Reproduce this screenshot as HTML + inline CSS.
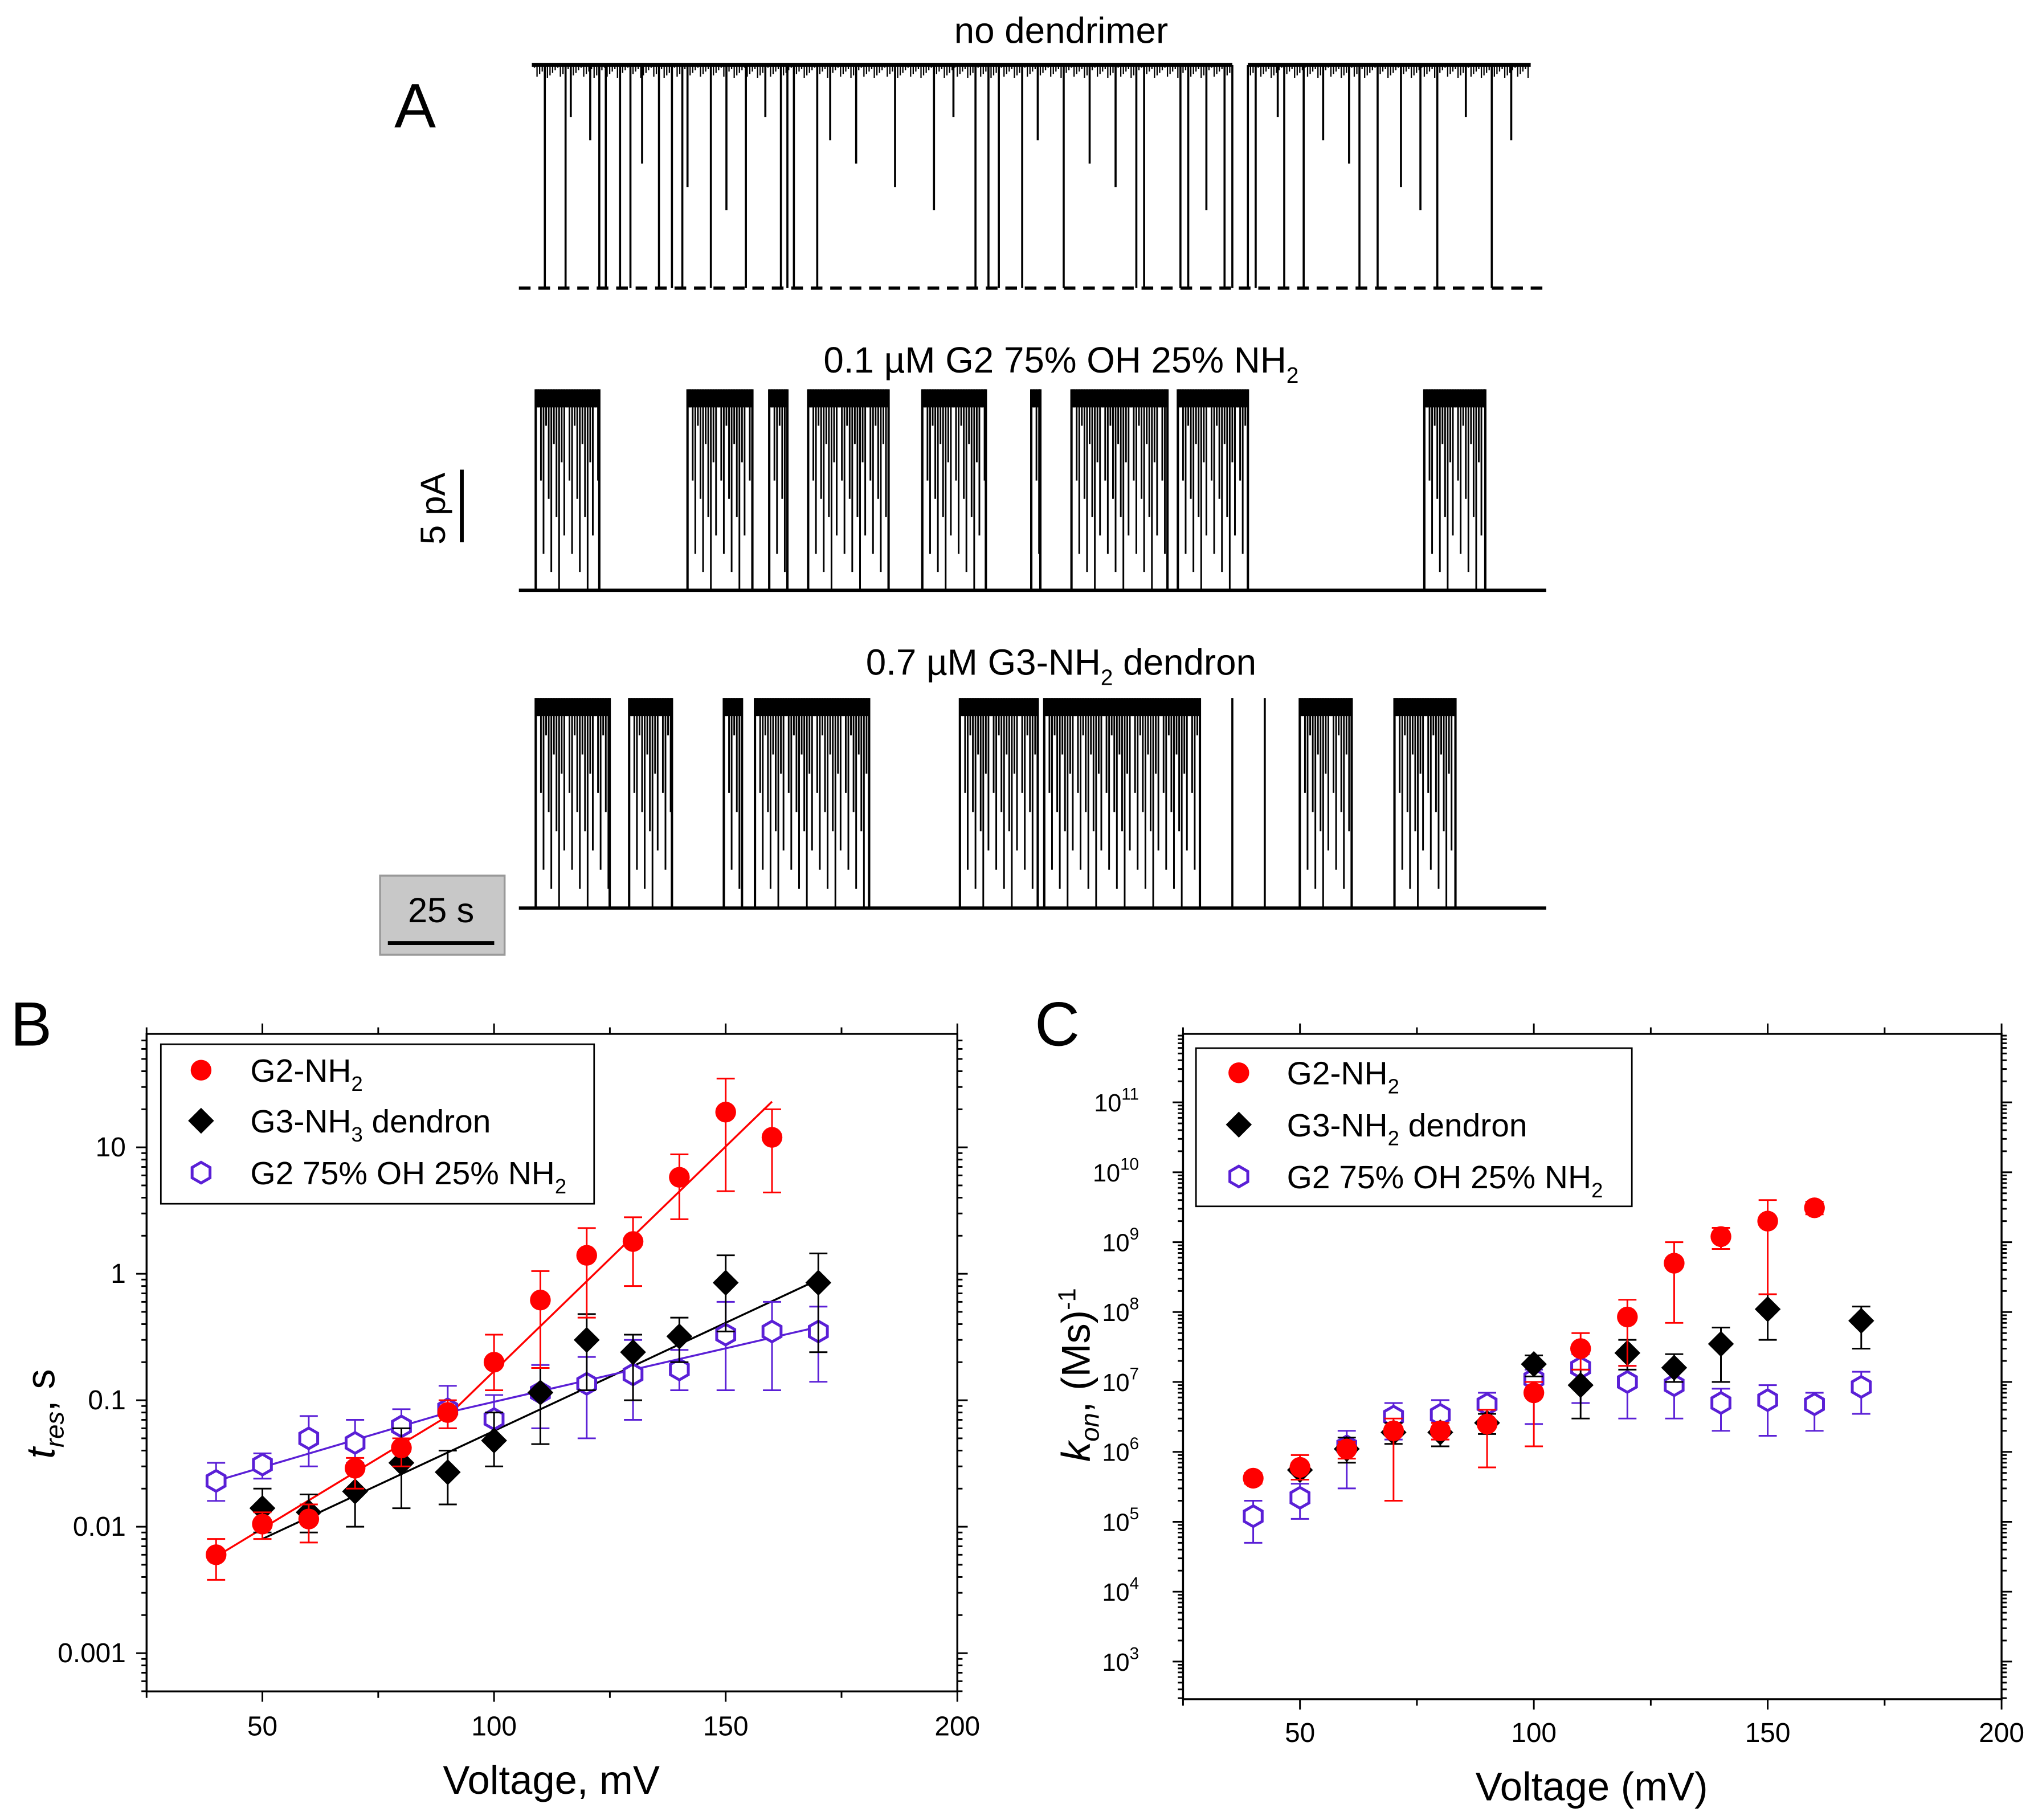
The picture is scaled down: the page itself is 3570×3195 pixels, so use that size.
<!DOCTYPE html>
<html><head><meta charset="utf-8"><style>
html,body{margin:0;padding:0;background:#fff}
svg{display:block}
text{font-family:"Liberation Sans",sans-serif;fill:#000}
</style></head><body>
<svg id="fig" width="3570" height="3195" viewBox="0 0 1568 1403" xmlns="http://www.w3.org/2000/svg">
<g id="panelA"></g>
<g id="panelB"></g>
<g id="panelC"></g>
</svg>
<script>
// ---------- Panel B data ----------
const voltB = [40,50,60,70,80,90,100,110,120,130,140,150,160,170];
const g2Res = [0.006,0.0105,0.0115,0.029,0.042,0.08,0.2,0.62,1.4,1.8,5.8,19,12,null];
const g2ResLo = [0.0038,0.008,0.0075,0.02,0.03,0.06,0.12,0.18,0.45,0.8,2.7,4.5,4.4,null];
const g2ResHi = [0.008,0.013,0.015,0.035,0.05,0.1,0.33,1.05,2.3,2.8,8.8,35,20,null];
const g3Res = [null,0.014,0.013,0.019,0.032,0.027,0.048,0.115,0.3,0.24,0.32,0.85,null,0.85];
const g3ResLo = [null,0.009,0.009,0.01,0.014,0.015,0.03,0.045,0.12,0.1,0.2,0.35,null,0.24];
const g3ResHi = [null,0.02,0.018,0.03,0.06,0.04,0.08,0.18,0.48,0.33,0.45,1.4,null,1.45];
const mixRes = [0.023,0.031,0.05,0.046,0.062,0.085,0.071,0.115,0.135,0.16,0.175,0.33,0.35,0.35];
const mixResLo = [0.016,0.024,0.03,0.032,0.045,0.06,0.05,0.06,0.05,0.07,0.12,0.12,0.12,0.14];
const mixResHi = [0.032,0.038,0.075,0.07,0.085,0.13,0.11,0.19,0.22,0.3,0.25,0.6,0.6,0.55];
const g2FitX = [40,90,160];
const g2FitY = [0.0058,0.075,23];
const g3FitX = [50,170];
const g3FitY = [0.008,0.9];
const mixFitX = [40,90,170];
const mixFitY = [0.023,0.08,0.38];
const xTicksB = [50,100,150,200];
const yTicksB = [0.001,0.01,0.1,1,10];
const yTickLabelsB = ["0.001","0.01","0.1","1","10"];

// ---------- Panel C data ----------
const voltC = [40,50,60,70,80,90,100,110,120,130,140,150,160,170];
const g2Kon = [4.2e5,6e5,1.1e6,2e6,2e6,2.5e6,7e6,3e7,8.5e7,5e8,1.2e9,2e9,3.1e9,null];
const g2KonLo = [3.5e5,4e5,8e5,2e5,1.5e6,6e5,1.2e6,1.5e7,1.7e7,7e7,8e8,1.8e8,2.5e9,null];
const g2KonHi = [5e5,9e5,1.4e6,3e6,2.6e6,4e6,1e7,5e7,1.5e8,1e9,1.6e9,4e9,3.8e9,null];
const g3Kon = [null,5.5e5,1.1e6,1.9e6,1.9e6,2.6e6,1.8e7,9e6,2.6e7,1.6e7,3.5e7,1.1e8,null,7.5e7];
const g3KonLo = [null,4e5,7e5,1.3e6,1.2e6,1.8e6,1.2e7,3e6,1.5e7,1e7,1e7,4e7,null,3e7];
const g3KonHi = [null,7e5,1.6e6,2.6e6,2.6e6,3.5e6,2.4e7,1.5e7,4e7,2.5e7,6e7,1.8e8,null,1.2e8];
const mixKon = [1.2e5,2.2e5,1.2e6,3.2e6,3.4e6,4.8e6,1.1e7,1.6e7,1e7,9e6,5e6,5.5e6,4.8e6,8.5e6];
const mixKonLo = [5e4,1.1e5,3e5,1.5e6,1.5e6,2.5e6,2.5e6,5e6,3e6,3e6,2e6,1.7e6,2e6,3.5e6];
const mixKonHi = [2e5,3.5e5,2e6,5e6,5.5e6,7e6,1.5e7,2.5e7,1.7e7,1.6e7,8e6,9e6,7e6,1.4e7];
const xTicksC = [50,100,150,200];
const yExpC = [3,4,5,6,7,8,9,10,11];

// ---------- Panel A trace data ----------
const spikes1 = [420,436,462,467,478,486,508,518,526,548,575,602,607,612,630,752,762,770,788,820,876,882,910,916,944,968,990,1005,1048,1062,1108,1150];
const shortSpikes1 = [440,455,495,530,560,590,640,660,690,720,735,800,840,860,930,985,1020,1040,1080,1095,1130,1165];
const gaps1 = [[950,962]];
const blocks2 = [[413,462],[530,580],[593,607],[623,685],[711,760],[795,802],[826,900],[908,962],[1098,1145]];
const blocks3 = [[413,470],[485,518],[558,572],[582,670],[740,800],[805,925],[1002,1042],[1075,1122]];
const thin3 = [950,975];

const NS="http://www.w3.org/2000/svg";
function mk(parent,tag,attrs,txt){const e=document.createElementNS(NS,tag);for(const k in attrs)e.setAttribute(k,attrs[k]);if(txt!==undefined)e.textContent=txt;parent.appendChild(e);return e;}

// ===== Panel A =====
const A=document.getElementById('panelA');
let t;
t=mk(A,'text',{x:320,y:98,'font-size':48,'text-anchor':'middle'},'A');


t=mk(A,'text',{x:818,y:33,'font-size':28,'text-anchor':'middle'},'no dendrimer');


t=mk(A,'text',{x:818,y:287,'font-size':28,'text-anchor':'middle'});
t.innerHTML='0.1 µM G2 75% OH 25% NH<tspan font-size="17" dy="8">2</tspan>';


t=mk(A,'text',{x:818,y:520,'font-size':28,'text-anchor':'middle'});
t.innerHTML='0.7 µM G3-NH<tspan font-size="17" dy="8">2</tspan><tspan dy="-8"> dendron</tspan>';


// trace 1
const tr1=mk(A,'g',{stroke:'#000','stroke-width':1.6,fill:'none'});


mk(tr1,'path',{d:'M410 50 H950 M962 50 H1180','stroke-width':3});
mk(tr1,'path',{d:'M400 222 H1192','stroke-dasharray':'9 6','stroke-width':2.5});
for(let x=412,i=0;x<1180;x+=2,i++){ if(x>950&&x<962)continue; mk(tr1,'line',{x1:x,y1:50,x2:x,y2:52+((i*7)%9),'stroke-width':1}); }
spikes1.forEach(x=>mk(tr1,'line',{x1:x,y1:50,x2:x,y2:222}));
shortSpikes1.forEach((x,i)=>mk(tr1,'line',{x1:x,y1:50,x2:x,y2:90+(i%5)*18}));
gaps1.forEach(g=>{mk(tr1,'line',{x1:g[0],y1:50,x2:g[0],y2:222});mk(tr1,'line',{x1:g[1],y1:50,x2:g[1],y2:222});});
function blockTrace(name,blocks,top,bot,thin){
  const g=mk(A,'g',{stroke:'#000',fill:'none'});
  
  
  mk(g,'path',{d:`M400 ${bot} H1192`,'stroke-width':2.5});
  blocks.forEach(b=>{
    mk(g,'rect',{x:b[0],y:top,width:b[1]-b[0],height:14,fill:'#000',stroke:'none'});
    mk(g,'line',{x1:b[0],y1:top,x2:b[0],y2:bot,'stroke-width':1.8});
    mk(g,'line',{x1:b[1],y1:top,x2:b[1],y2:bot,'stroke-width':1.8});
    for(let x=b[0]+2,i=0;x<b[1];x+=2,i++){
      const len=((i*37)%11)/10;
      mk(g,'line',{x1:x,y1:top,x2:x,y2:top+14+(bot-top-14)*len,'stroke-width':1.3});
    }
  });
  (thin||[]).forEach(x=>mk(g,'line',{x1:x,y1:top,x2:x,y2:bot,'stroke-width':1.6}));
}
blockTrace('trace-g2-mixed',blocks2,300,455);
blockTrace('trace-g3-dendron',blocks3,538,700,thin3);
// scale bars
const sb=mk(A,'g',{});


mk(sb,'line',{x1:356,y1:362,x2:356,y2:418,stroke:'#000','stroke-width':3});
mk(sb,'text',{x:0,y:0,'font-size':27,'text-anchor':'middle',transform:'translate(343,392) rotate(-90)'},'5 pA');
const tb=mk(A,'g',{});


mk(tb,'rect',{x:293,y:675,width:96,height:61,fill:'#c8c8c8',stroke:'#999','stroke-width':1.5});
mk(tb,'text',{x:340,y:711,'font-size':27,'text-anchor':'middle'},'25 s');
mk(tb,'line',{x1:299,y1:727,x2:381,y2:727,stroke:'#000','stroke-width':3});

// ===== generic chart =====
function marker(g,type,x,y,name){
  let m;
  if(type==='circle') m=mk(g,'circle',{cx:x,cy:y,r:8,fill:'#f00',stroke:'none'});
  else if(type==='diamond') m=mk(g,'path',{d:`M${x} ${y-10} L${x+10} ${y} L${x} ${y+10} L${x-10} ${y} Z`,fill:'#000'});
  else { let d='';for(let k=0;k<6;k++){const a=Math.PI/6+k*Math.PI/3;d+=(k?'L':'M')+(x+8*Math.cos(a)).toFixed(1)+' '+(y+8*Math.sin(a)).toFixed(1);} m=mk(g,'path',{d:d+'Z',fill:'#fff',stroke:'#5a1fd6','stroke-width':2.2}); }
  
  
}
function series(P,xs,ys,lo,hi,type,color,sx,sy,name){
  const g=mk(P,'g',{});
  
  
  xs.forEach((v,i)=>{
    if(ys[i]==null)return;
    const X=sx(v);
    const e=mk(g,'path',{d:`M${X} ${sy(lo[i])} V${sy(hi[i])} M${X-7} ${sy(lo[i])} H${X+7} M${X-7} ${sy(hi[i])} H${X+7}`,stroke:color,'stroke-width':1.3,fill:'none'});
    
    
  });
  xs.forEach((v,i)=>{ if(ys[i]==null)return; marker(g,type,sx(v),sy(ys[i]),name+'-point'); });
}
function legend(P,x0,y0,w,h,ys,mx,tx,items){
  const g=mk(P,'g',{});
  
  
  mk(g,'rect',{x:x0,y:y0,width:w,height:h,fill:'#fff',stroke:'#000','stroke-width':1.2});
  items.forEach((it,i)=>{
    const e=mk(g,'g',{});
    
    
    marker(e,it[0],mx,ys[i],'legend-marker');
    const tt=mk(e,'text',{x:tx,y:ys[i]+9,'font-size':25});
    tt.innerHTML=it[1];
  });
}

// ===== Panel B =====
(function(){
  const P=document.getElementById('panelB');
  const L=113,R=738,T=797,Bt=1304;
  const sx=v=>L+(v-25)*(R-L)/175;
  const sy=v=>982-97.5*Math.log10(v);
  let e=mk(P,'text',{x:24,y:806,'font-size':48,'text-anchor':'middle'},'B');
  
  
  e=mk(P,'rect',{x:L,y:T,width:R-L,height:Bt-T,fill:'none',stroke:'#000','stroke-width':1.5});
  
  
  const ax=mk(P,'g',{stroke:'#000','stroke-width':1.3});
  
  
  for(let v=25;v<=200;v+=25){const X=sx(v);const major=v%50===0;mk(ax,'line',{x1:X,y1:Bt,x2:X,y2:Bt+(major?8:5)});mk(ax,'line',{x1:X,y1:T,x2:X,y2:T-(major?8:5)});}
  xTicksB.forEach(v=>{const t=mk(P,'text',{x:sx(v),y:1338,'font-size':21,'text-anchor':'middle'},String(v));});
  for(let d=-4;d<=1;d++)for(let k=1;k<10;k++){const v=k*Math.pow(10,d);const Y=sy(v);if(Y<T||Y>Bt)continue;mk(ax,'line',{x1:L,y1:Y,x2:L-(k===1?8:4),y2:Y});mk(ax,'line',{x1:R,y1:Y,x2:R+(k===1?8:4),y2:Y});}
  yTicksB.forEach((v,i)=>{const t=mk(P,'text',{x:97,y:sy(v)+7,'font-size':21,'text-anchor':'end'},yTickLabelsB[i]);});
  e=mk(P,'text',{x:425,y:1383,'font-size':31,'text-anchor':'middle'},'Voltage, mV');
  
  
  e=mk(P,'text',{x:0,y:0,'font-size':31,'text-anchor':'middle',transform:'translate(42,1090) rotate(-90)'});
  e.innerHTML='<tspan font-style="italic">t</tspan><tspan font-style="italic" font-size="20" dy="7">res</tspan><tspan dy="-7">, s</tspan>';
  
  
  function fit(xs,ys,c,n){const d=xs.map((v,i)=>(i?'L':'M')+sx(v)+' '+sy(ys[i])).join(' ');const p=mk(P,'path',{d:d,stroke:c,'stroke-width':1.5,fill:'none'});}
  fit(g2FitX,g2FitY,'#f00','g2-fit-line');
  fit(g3FitX,g3FitY,'#000','g3-fit-line');
  fit(mixFitX,mixFitY,'#5a1fd6','mixed-fit-line');
  series(P,voltB,mixRes,mixResLo,mixResHi,'hex','#5a1fd6',sx,sy,'g2-mixed');
  series(P,voltB,g3Res,g3ResLo,g3ResHi,'diamond','#000',sx,sy,'g3-dendron');
  series(P,voltB,g2Res,g2ResLo,g2ResHi,'circle','#f00',sx,sy,'g2-nh2');
  legend(P,124,805,334,123,[825,864,904],155,193,[
    ['circle','G2-NH<tspan font-size="16" dy="7">2</tspan>'],
    ['diamond','G3-NH<tspan font-size="16" dy="7">3</tspan><tspan dy="-7"> dendron</tspan>'],
    ['hex','G2 75% OH 25% NH<tspan font-size="16" dy="7">2</tspan>']]);
})();

// ===== Panel C =====
(function(){
  const P=document.getElementById('panelC');
  const L=912,R=1543,T=797,Bt=1310;
  const sx=v=>L+(v-25)*(R-L)/175;
  const sy=v=>1281-53.9*(Math.log10(v)-3);
  let e=mk(P,'text',{x:815,y:806,'font-size':48,'text-anchor':'middle'},'C');
  
  
  e=mk(P,'rect',{x:L,y:T,width:R-L,height:Bt-T,fill:'none',stroke:'#000','stroke-width':1.5});
  
  
  const ax=mk(P,'g',{stroke:'#000','stroke-width':1.3});
  
  
  for(let v=25;v<=200;v+=25){const X=sx(v);const major=v%50===0;mk(ax,'line',{x1:X,y1:Bt,x2:X,y2:Bt+(major?8:5)});mk(ax,'line',{x1:X,y1:T,x2:X,y2:T-(major?8:5)});}
  xTicksC.forEach(v=>{const t=mk(P,'text',{x:sx(v),y:1343,'font-size':21,'text-anchor':'middle'},String(v));});
  for(let d=2;d<=11;d++)for(let k=1;k<10;k++){const v=k*Math.pow(10,d);const Y=sy(v);if(Y<T||Y>Bt)continue;mk(ax,'line',{x1:L,y1:Y,x2:L-(k===1?8:4),y2:Y});mk(ax,'line',{x1:R,y1:Y,x2:R+(k===1?8:4),y2:Y});}
  yExpC.forEach(p=>{const t=mk(P,'text',{x:878,y:sy(Math.pow(10,p))+7,'font-size':19,'text-anchor':'end'});t.innerHTML='10<tspan font-size="13" dy="-9">'+p+'</tspan>';});
  e=mk(P,'text',{x:1227,y:1388,'font-size':31,'text-anchor':'middle'},'Voltage (mV)');
  
  
  e=mk(P,'text',{x:0,y:0,'font-size':31,'text-anchor':'middle',transform:'translate(840,1060) rotate(-90)'});
  e.innerHTML='<tspan font-style="italic">k</tspan><tspan font-style="italic" font-size="20" dy="7">on</tspan><tspan dy="-7">, (Ms)</tspan><tspan font-size="19" dy="-11">-1</tspan>';
  
  
  series(P,voltC,mixKon,mixKonLo,mixKonHi,'hex','#5a1fd6',sx,sy,'g2-mixed');
  series(P,voltC,g3Kon,g3KonLo,g3KonHi,'diamond','#000',sx,sy,'g3-dendron');
  series(P,voltC,g2Kon,g2KonLo,g2KonHi,'circle','#f00',sx,sy,'g2-nh2');
  legend(P,922,808,336,122,[827,867,907],955,992,[
    ['circle','G2-NH<tspan font-size="16" dy="7">2</tspan>'],
    ['diamond','G3-NH<tspan font-size="16" dy="7">2</tspan><tspan dy="-7"> dendron</tspan>'],
    ['hex','G2 75% OH 25% NH<tspan font-size="16" dy="7">2</tspan>']]);
})();
</script>
</body></html>
